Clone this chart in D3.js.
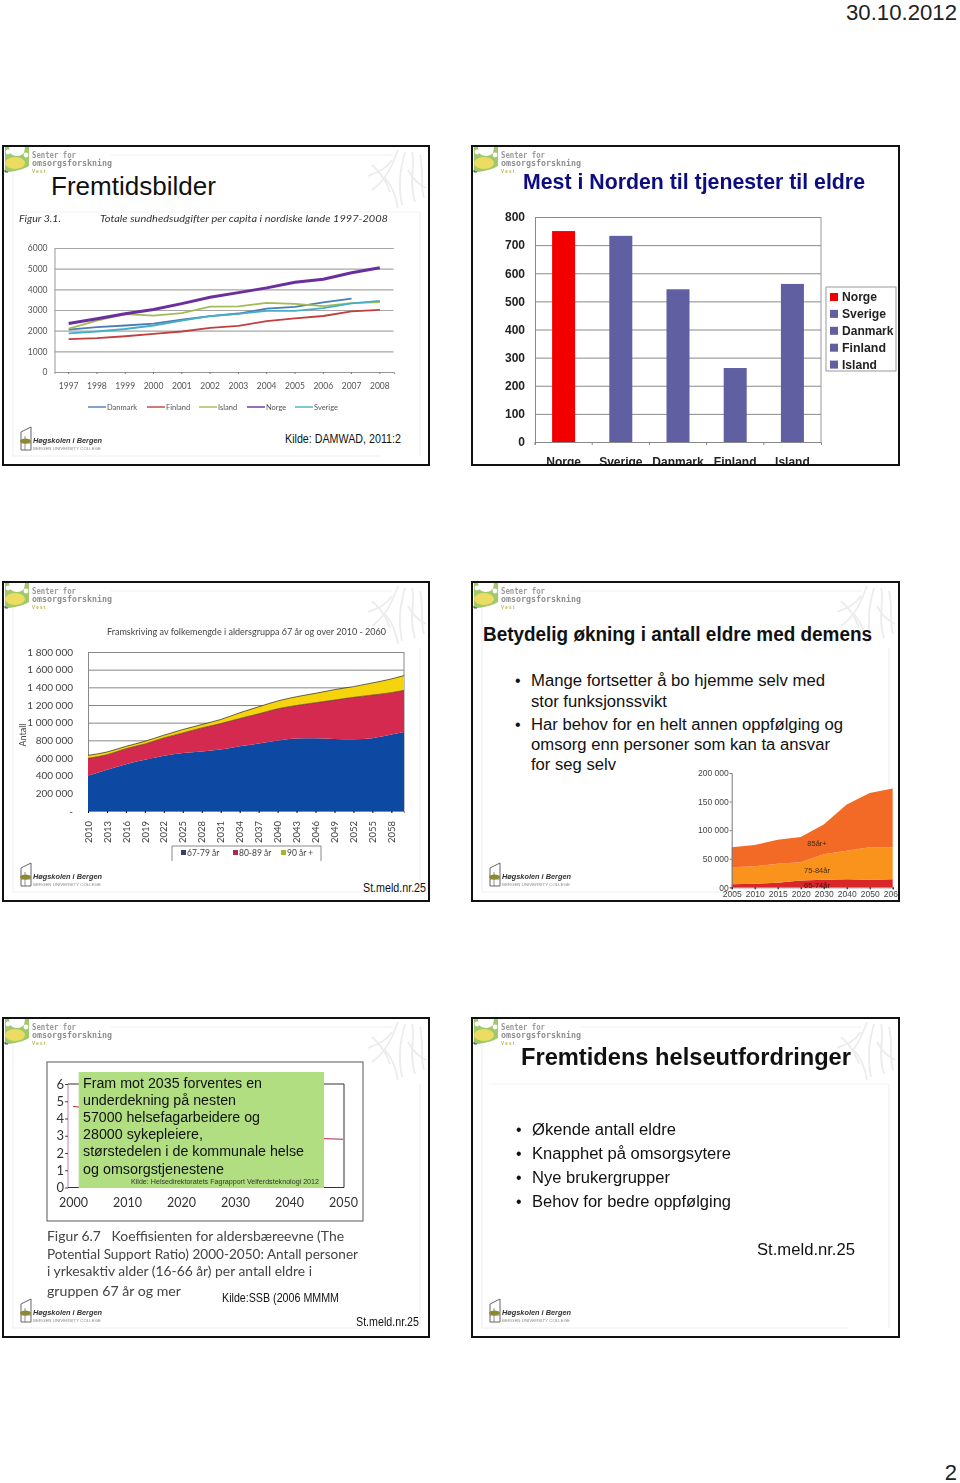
<!DOCTYPE html>
<html><head><meta charset="utf-8">
<script src="https://cdnjs.cloudflare.com/ajax/libs/d3/7.8.5/d3.min.js"></script>
<style>html,body{margin:0;padding:0;background:#fff}svg{display:block}text{font-family:"Liberation Sans",Arial,sans-serif}</style>
</head><body><div id="chart"></div>
<script>
// Slide 1: health spending per capita
const yearsA = ["1997","1998","1999","2000","2001","2002","2003","2004","2005","2006","2007","2008"];
const danmark = [2050,2170,2250,2340,2530,2700,2830,3070,3150,3370,3550];
const finland = [1590,1640,1730,1840,1960,2140,2230,2460,2590,2710,2930,3010];
const island  = [2100,2480,2800,2730,2850,3160,3180,3340,3300,3190,3330,3380];
const norge   = [2350,2580,2820,3020,3310,3620,3840,4070,4340,4490,4800,5040];
const sverige = [1870,1960,2080,2250,2490,2700,2810,2960,2960,3090,3320,3440];
const seriesNamesA = ["Danmark","Finland","Island","Norge","Sverige"];
const seriesColorsA = ["#4a7db5","#c0403f","#a3bb55","#6a2f9e","#45afc6"];
// Slide 2: spending on services
const countries = ["Norge","Sverige","Danmark","Finland","Island"];
const serviceValues = [750,733,543,263,562];
// Slide 3: population projection
const yearsC = [2010,2013,2016,2019,2022,2025,2028,2031,2034,2037,2040,2043,2046,2049,2052,2055,2058,2060];
const age6779 = [400,467,530,580,626,656,675,695,732,763,797,820,824,816,812,825,865,895];
const age8089 = [196,170,176,179,201,228,266,295,315,337,360,375,402,440,475,488,475,471];
const age90   = [34,31,26,30,31,38,38,46,65,80,88,99,106,118,121,137,155,167];
const ticksC = [0,200,400,600,800,1000,1200,1400,1600,1800];
// Slide 4: dementia projection
const yearsD = ["2005","2010","2015","2020","2030","2040","2050","2060"];
const dem6574 = [5.5,6,8,12,13,14,13,14];
const dem7584 = [29.5,31,33,32,45,50,57,56];
const dem85   = [35,37,42,44,52,81,95,103];
// Slide 5: potential support ratio
const yearsE = [2000,2010,2020,2030,2040,2050];
const supportRatio = [4.7,4.4,3.7,3.2,2.9,2.8];

const svg = d3.select("#chart").append("svg").attr("width",960).attr("height",1483);
const defs = svg.append("defs");
defs.append("filter").attr("id","soft").append("feGaussianBlur").attr("stdDeviation",0.35);
defs.append("filter").attr("id","softer").append("feGaussianBlur").attr("stdDeviation",0.6);

function T(g,x,y,s,o={}){
  const t=g.append("text").attr("x",x).attr("y",y).text(s)
   .attr("font-size",o.size||12).attr("fill",o.fill||"#111");
  if(o.bold)t.attr("font-weight","bold");
  if(o.italic)t.attr("font-style","italic");
  if(o.anchor)t.attr("text-anchor",o.anchor);
  if(o.family)t.style("font-family",o.family);
  if(o.w)t.attr("textLength",o.w).attr("lengthAdjust","spacingAndGlyphs");
  return t;
}
const FS=[[3,146],[472,146],[3,582],[472,582],[3,1018],[472,1018]];
T(svg,957,20,"30.10.2012",{size:22,anchor:"end",fill:"#222",w:111});
T(svg,957,1480,"2",{size:22,anchor:"end",fill:"#222"});

const clips=FS.map((f,i)=>{
  defs.append("clipPath").attr("id","clip"+i).append("rect").attr("x",f[0]).attr("y",f[1]).attr("width",i%2?427:426).attr("height",319);
  return "url(#clip"+i+")";
});

FS.forEach((f,i)=>{
  const g=svg.append("g").attr("transform",`translate(${f[0]-3},${f[1]-146})`).attr("filter","url(#softer)");
  // faint inner frame
  if(i!==1){
    g.append("path").attr("d","M111,155H392M13,172V456H380M420,212V456").attr("fill","none").attr("stroke","#f0f0f0").attr("stroke-width",1.2);
    if(i!==4&&i!==3&&i!==2)g.append("path").attr("d","M20,212H420").attr("fill","none").attr("stroke","#f3f3f3");
    // floral decoration
    const fl=g.append("g").attr("fill","none").attr("stroke","#ececec").attr("stroke-width",1.8);
    ["M398,150C392,165 388,178 372,190","M405,152C400,170 398,185 402,205","M412,152C416,165 408,180 415,202","M420,155C424,170 420,185 424,198","M392,160C385,170 378,172 368,176","M385,178C392,186 396,196 398,208","M372,165C380,172 386,180 390,192","M408,170C412,178 418,184 426,188"]
     .forEach(d=>fl.append("path").attr("d",d));
  }
  // logo top-left
  g.append("path").attr("d","M5,147H29V166C22,170 12,172 5,172Z").attr("fill","#9fc96a");
  g.append("path").attr("d","M9,147H25L24,153C20,157 14,157 10,153Z").attr("fill","#fff");
  g.append("circle").attr("cx",8).attr("cy",152).attr("r",2.4).attr("fill","#fff");
  g.append("circle").attr("cx",26).attr("cy",155).attr("r",2.4).attr("fill","#fff");
  g.append("ellipse").attr("cx",15).attr("cy",163).attr("rx",10).attr("ry",6).attr("fill","#ecdc62");
  g.append("path").attr("d","M5,170V172H8").attr("fill","none").attr("stroke","#333").attr("stroke-width",0.8);
  T(g,32,157.5,"Senter for",{size:8,fill:"#9a9a9a",family:"'DejaVu Sans Mono',monospace",w:44,bold:true});
  T(g,32,166,"omsorgsforskning",{size:8,fill:"#8f8f8f",family:"'DejaVu Sans Mono',monospace",w:80,bold:true});
  T(g,32,172.5,"V e s t",{size:4.5,fill:"#b9b04a",bold:true});
  // logo bottom-left (slide 2 is covered by its chart)
  if(i!==1){
    const b=g.append("g");
    b.append("path").attr("d","M21,432L31,427V450H21Z").attr("fill","none").attr("stroke","#555").attr("stroke-width",0.9);
    b.append("path").attr("d","M25,436V450M21,443H31").attr("stroke","#666").attr("stroke-width",0.7);
    b.append("ellipse").attr("cx",25.5).attr("cy",441).attr("rx",5.5).attr("ry",2.5).attr("fill","#8c8a2e");
    T(b,33,443,"Høgskolen i Bergen",{size:6.5,bold:true,italic:true,fill:"#333",w:69});
    T(b,33,449.5,"BERGEN UNIVERSITY COLLEGE",{size:3.6,fill:"#888",w:68});
  }
});

// ---- Slide 1
{
 T(svg,51,195,"Fremtidsbilder",{size:26,w:165});
 T(svg,285,443,"Kilde: DAMWAD, 2011:2",{size:12,w:116});
 const g=svg.append("g").attr("filter","url(#soft)");
 const F="Lato,sans-serif";
 T(g,19,222,"Figur 3.1.",{size:10,italic:true,family:F,w:42,fill:"#333"});
 T(g,100,222,"Totale sundhedsudgifter per capita i nordiske lande 1997-2008",{size:10,italic:true,family:F,w:288,fill:"#333"});
 const x=d3.scaleBand().domain(yearsA).range([54.5,394]);
 const y=d3.scaleLinear().domain([0,6000]).range([372,248]);
 const ay=g.append("g").attr("transform","translate(54.5,0)").call(d3.axisLeft(y).ticks(6).tickFormat(d3.format("d")).tickSize(-339).tickPadding(7));
 ay.select(".domain").attr("stroke","#999");
 ay.selectAll("line").attr("stroke","#a6a6a6").attr("stroke-width",1.2);
 ay.selectAll("text").attr("font-size",8.5).attr("fill","#555").style("font-family",F);
 const ax=g.append("g").attr("transform","translate(0,372)").call(d3.axisBottom(x).tickSize(2).tickPadding(9));
 ax.select(".domain").attr("stroke","#999");
 ax.selectAll("line").attr("stroke","#777");
 ax.selectAll("text").attr("font-size",8.5).attr("fill","#555").style("font-family",F);
 const line=d3.line().x((d,i)=>x(yearsA[i])+x.bandwidth()/2).y(d=>y(d));
 [danmark,finland,island,norge,sverige].forEach((v,i)=>{
  g.append("path").attr("d",line(v)).attr("fill","none").attr("stroke",seriesColorsA[i]).attr("stroke-width",i==3?3:1.8);
 });
 const lx=[88,147,199,247,295];
 seriesNamesA.forEach((n,i)=>{
  g.append("line").attr("x1",lx[i]).attr("x2",lx[i]+18).attr("y1",407).attr("y2",407).attr("stroke",seriesColorsA[i]).attr("stroke-width",1.4);
  T(g,lx[i]+19,410,n,{size:7.5,fill:"#555",family:F});
 });
}
// ---- Slide 2
{
 const g=svg.append("g").attr("filter","url(#soft)").attr("clip-path",clips[1]);
 T(g,523,189,"Mest i Norden til tjenester til eldre",{size:21.5,bold:true,fill:"#0c0c80",w:342});
 const x=d3.scaleBand().domain(countries).range([535,821]);
 const y=d3.scaleLinear().domain([0,800]).range([442,217]);
 const ay=g.append("g").attr("transform","translate(535,0)").call(d3.axisLeft(y).ticks(8).tickSize(-286).tickPadding(10));
 ay.select(".domain").attr("stroke","#888");
 ay.selectAll("line").attr("stroke","#8a8a8a");
 ay.selectAll("text").attr("font-size",12).attr("font-weight","bold").attr("fill","#222").style("font-family","'Liberation Sans'");
 g.append("line").attr("x1",821).attr("x2",821).attr("y1",217).attr("y2",442).attr("stroke","#999");
 g.selectAll(".bar").data(serviceValues).join("rect").attr("class","bar")
  .attr("x",(d,i)=>x(countries[i])+x.bandwidth()/2-11.5).attr("width",23)
  .attr("y",d=>y(d)).attr("height",d=>442-y(d))
  .attr("fill",(d,i)=>i?"#5e5ea2":"#f20000");
 const ax=g.append("g").attr("transform","translate(0,442)").call(d3.axisBottom(x).tickSize(3).tickPadding(12));
 ax.select(".domain").attr("stroke","#888");
 ax.selectAll("line").remove();
 ax.selectAll("text").attr("font-size",12).attr("font-weight","bold").attr("fill","#222").style("font-family","'Liberation Sans'");
 x.domain().forEach(d=>g.append("line").attr("x1",x(d)).attr("x2",x(d)).attr("y1",442).attr("y2",445).attr("stroke","#888"));
 g.append("rect").attr("x",826).attr("y",287).attr("width",70).attr("height",84).attr("fill","#fff").attr("stroke","#999");
 countries.forEach((c,i)=>{
  const yy=296.5+i*16.9;
  g.append("rect").attr("x",830).attr("y",yy-3.5).attr("width",8).attr("height",8).attr("fill",i?"#5e5ea2":"#f20000");
  T(g,842,yy+4.5,c,{size:12,bold:true,fill:"#222",w:[35,44,51.5,44,35][i]});
 });
}
// ---- Slide 3
{
 const g=svg.append("g").attr("filter","url(#soft)");
 const F="Lato,sans-serif";
 T(g,107,635,"Framskriving av folkemengde i aldersgruppa 67 år og over 2010 - 2060",{size:9.5,fill:"#444",family:F,w:279});
 const x=d3.scaleLinear().domain([2010,2060]).range([88,404]);
 const y=d3.scaleLinear().domain([0,1800]).range([811,652]);
 const ay=g.append("g").attr("transform","translate(88,0)").call(d3.axisLeft(y).tickValues(ticksC).tickSize(-316).tickPadding(15)
   .tickFormat(d=>d?d3.format(",")(d*1000).replace(/,/g," "):"-"));
 ay.select(".domain").attr("stroke","#888");
 ay.selectAll("line").attr("stroke","#888");
 ay.selectAll("text").attr("font-size",10).attr("fill","#444").style("font-family",F);
 g.append("line").attr("x1",404).attr("x2",404).attr("y1",652).attr("y2",811).attr("stroke","#888");
 const keys=["a","b","c"];
 const rows=yearsC.map((yr,i)=>({yr,a:age6779[i],b:age8089[i],c:age90[i]}));
 const st=d3.stack().keys(keys)(rows);
 const area=d3.area().curve(d3.curveMonotoneX).x(d=>x(d.data.yr)).y0(d=>y(d[0])).y1(d=>y(d[1]));
 const cols=["#0f49a2","#d52a50","#f6d410"];
 st.forEach((s,i)=>g.append("path").attr("d",area(s)).attr("fill",cols[i]));
 g.append("path").attr("d",d3.line().curve(d3.curveMonotoneX).x(d=>x(d.data.yr)).y(d=>y(d[1]))(st[2])).attr("fill","none").attr("stroke","#222").attr("stroke-width",0.7);
 g.append("path").attr("d",d3.line().curve(d3.curveMonotoneX).x(d=>x(d.data.yr)).y(d=>y(d[1]))(st[1])).attr("fill","none").attr("stroke","#3a2a20").attr("stroke-width",0.6);
 const ax=g.append("g").attr("transform","translate(0,811)").call(d3.axisBottom(x).tickValues(yearsC.slice(0,17)).tickFormat(d3.format("d")).tickSize(2));
 ax.select(".domain").attr("stroke","#888");
 ax.selectAll("text").attr("font-size",9.5).attr("fill","#444").style("font-family",F)
   .attr("transform","rotate(-90)").attr("text-anchor","end").attr("dy","0.33em").attr("x",-10).attr("y",0);
 T(g,0,0,"Antall",{size:9,fill:"#444",family:F}).attr("transform","translate(26,735) rotate(-90)").attr("text-anchor","middle");
 g.append("path").attr("d","M172,861V846H321V861").attr("fill","none").attr("stroke","#888");
 [["67-79 år",181,"#33406a"],["80-89 år",233,"#b3284e"],["90 år +",281,"#a8b428"]].forEach(d=>{
  g.append("rect").attr("x",d[1]).attr("y",850).attr("width",5).attr("height",5).attr("fill",d[2]);
  T(g,d[1]+6,856,d[0],{size:8.5,fill:"#444",family:F});
 });
 T(svg,363,892,"St.meld.nr.25",{size:12,w:63});
}
// ---- Slide 4
{
 T(svg,483,641,"Betydelig økning i antall eldre med demens",{size:19.5,bold:true,w:389});
 const L=[["Mange fortsetter å bo hjemme selv med",686,294,1],["stor funksjonssvikt",707,136,0],["Har behov for en helt annen oppfølging og",730,312,1],["omsorg enn personer som kan ta ansvar",750,299,0],["for seg selv",770,85,0]];
 L.forEach(l=>{ if(l[3])T(svg,515,l[1],"•",{size:16}); T(svg,531,l[1],l[0],{size:16,w:l[2]}); });
 const g=svg.append("g").attr("filter","url(#soft)").attr("clip-path",clips[3]);
 const x=d3.scalePoint().domain(yearsD).range([731.7,892.7]);
 const y=d3.scaleLinear().domain([0,200]).range([887.3,773]);
 const rows=yearsD.map((yr,i)=>({yr,a:dem6574[i],b:dem7584[i],c:dem85[i]}));
 const st=d3.stack().keys(["a","b","c"])(rows);
 const area=d3.area().x(d=>x(d.data.yr)).y0(d=>y(d[0])).y1(d=>y(d[1]));
 const cols=["#d9252a","#fa931e","#f26b25"];
 st.forEach((s,i)=>g.append("path").attr("d",area(s)).attr("fill",cols[i]));
 const ay=g.append("g").attr("transform","translate(731.7,0)").call(d3.axisLeft(y).tickValues([0,50,100,150,200]).tickSize(2).tickPadding(1)
  .tickFormat(d=>d?d+" 000":"00"));
 ay.select(".domain").attr("stroke","#777");
 ay.selectAll("line").attr("stroke","#777");
 ay.selectAll("text").attr("font-size",8.5).attr("fill","#444");
 const ax=g.append("g").attr("transform","translate(0,887.3)").call(d3.axisBottom(x).tickSize(2).tickPadding(2));
 ax.select(".domain").attr("stroke","#777");
 ax.selectAll("text").attr("font-size",8.5).attr("fill","#444");
 T(g,817,846,"85år+",{size:7.5,anchor:"middle",fill:"#4a2a10"});
 T(g,817,873,"75-84år",{size:7.5,anchor:"middle",fill:"#4a2a10"});
 T(g,817,888,"65-74år",{size:7.5,anchor:"middle",fill:"#4a1010"});
}
// ---- Slide 5
{
 const g=svg.append("g").attr("filter","url(#soft)");
 const F="Lato,sans-serif";
 g.append("rect").attr("x",47).attr("y",1062).attr("width",316).attr("height",159).attr("fill","#fff").attr("stroke","#666").attr("stroke-width",1.1);
 const x=d3.scaleLinear().domain([2000,2050]).range([73,343]);
 const y=d3.scaleLinear().domain([0,6]).range([1187.5,1084]);
 g.append("path").attr("d",d3.line().x((d,i)=>x(yearsE[i])).y(d=>y(d))(supportRatio)).attr("fill","none").attr("stroke","#b3263a").attr("stroke-width",1.1);
 g.append("line").attr("x1",68).attr("x2",68).attr("y1",y(6)).attr("y2",y(0)).attr("stroke","#c77fa5").attr("stroke-width",1);
 g.append("path").attr("d",`M68,${y(6)}H344V${y(0)}H68`).attr("fill","none").attr("stroke","#333").attr("stroke-width",1);
 const ay=g.append("g").attr("transform","translate(68,0)").call(d3.axisLeft(y).ticks(6).tickSize(3).tickPadding(1));
 ay.select(".domain").remove();
 ay.selectAll("line").attr("stroke","#444");
 ay.selectAll("text").attr("font-size",13).attr("fill","#333").style("font-family",F);
 const ax=g.append("g").attr("transform","translate(0,1187.5)").call(d3.axisBottom(x).tickValues(yearsE).tickFormat(d3.format("d")).tickSize(0).tickPadding(11));
 ax.select(".domain").remove();
 ax.selectAll("text").attr("font-size",12.5).attr("fill","#333").style("font-family",F);
 const C=["Figur 6.7   Koeffisienten for aldersbæreevne (The",1241,297,"Potential Support Ratio) 2000-2050: Antall personer",1259,311,"i yrkesaktiv alder (16-66 år) per antall eldre i",1276,265,"gruppen 67 år og mer",1296,134];
 for(let i=0;i<C.length;i+=3)T(g,47,C[i+1],C[i],{size:14,fill:"#444",family:F,w:C[i+2]}).attr("xml:space","preserve").style("white-space","pre");
 svg.append("rect").attr("x",78.7).attr("y",1072).attr("width",245.3).attr("height",116).attr("fill","#b2de82");
 [["Fram mot 2035 forventes en",1088,179],["underdekning på nesten",1105,153],["57000 helsefagarbeidere og",1122,177],["28000 sykepleiere,",1139,120],["størstedelen i de kommunale helse",1156,221],["og omsorgstjenestene",1173.5,141]]
  .forEach(l=>T(svg,83,l[1],l[0],{size:14,w:l[2]}));
 T(svg,131,1184,"Kilde: Helsedirektoratets Fagrapport Velferdsteknologi 2012",{size:6.5,w:188,fill:"#333"});
 T(svg,222,1302,"Kilde:SSB (2006 MMMM",{size:12,w:117});
 T(svg,356,1326,"St.meld.nr.25",{size:12,w:63});
}
// ---- Slide 6
{
 T(svg,521,1065,"Fremtidens helseutfordringer",{size:24,bold:true,w:330});
 [["Økende antall eldre",1135,144],["Knapphet på omsorgsytere",1159,199],["Nye brukergrupper",1183,138],["Behov for bedre oppfølging",1207,199]].forEach(l=>{
  T(svg,516,l[1],"•",{size:16}); T(svg,532,l[1],l[0],{size:16,w:l[2]});
 });
 T(svg,757,1255,"St.meld.nr.25",{size:16,w:98});
}
// slide frames on top
FS.forEach((f,i)=>svg.append("rect").attr("x",f[0]).attr("y",f[1]).attr("width",i%2?427:426).attr("height",319)
  .attr("fill","none").attr("stroke","#111").attr("stroke-width",2));
</script></body></html>
